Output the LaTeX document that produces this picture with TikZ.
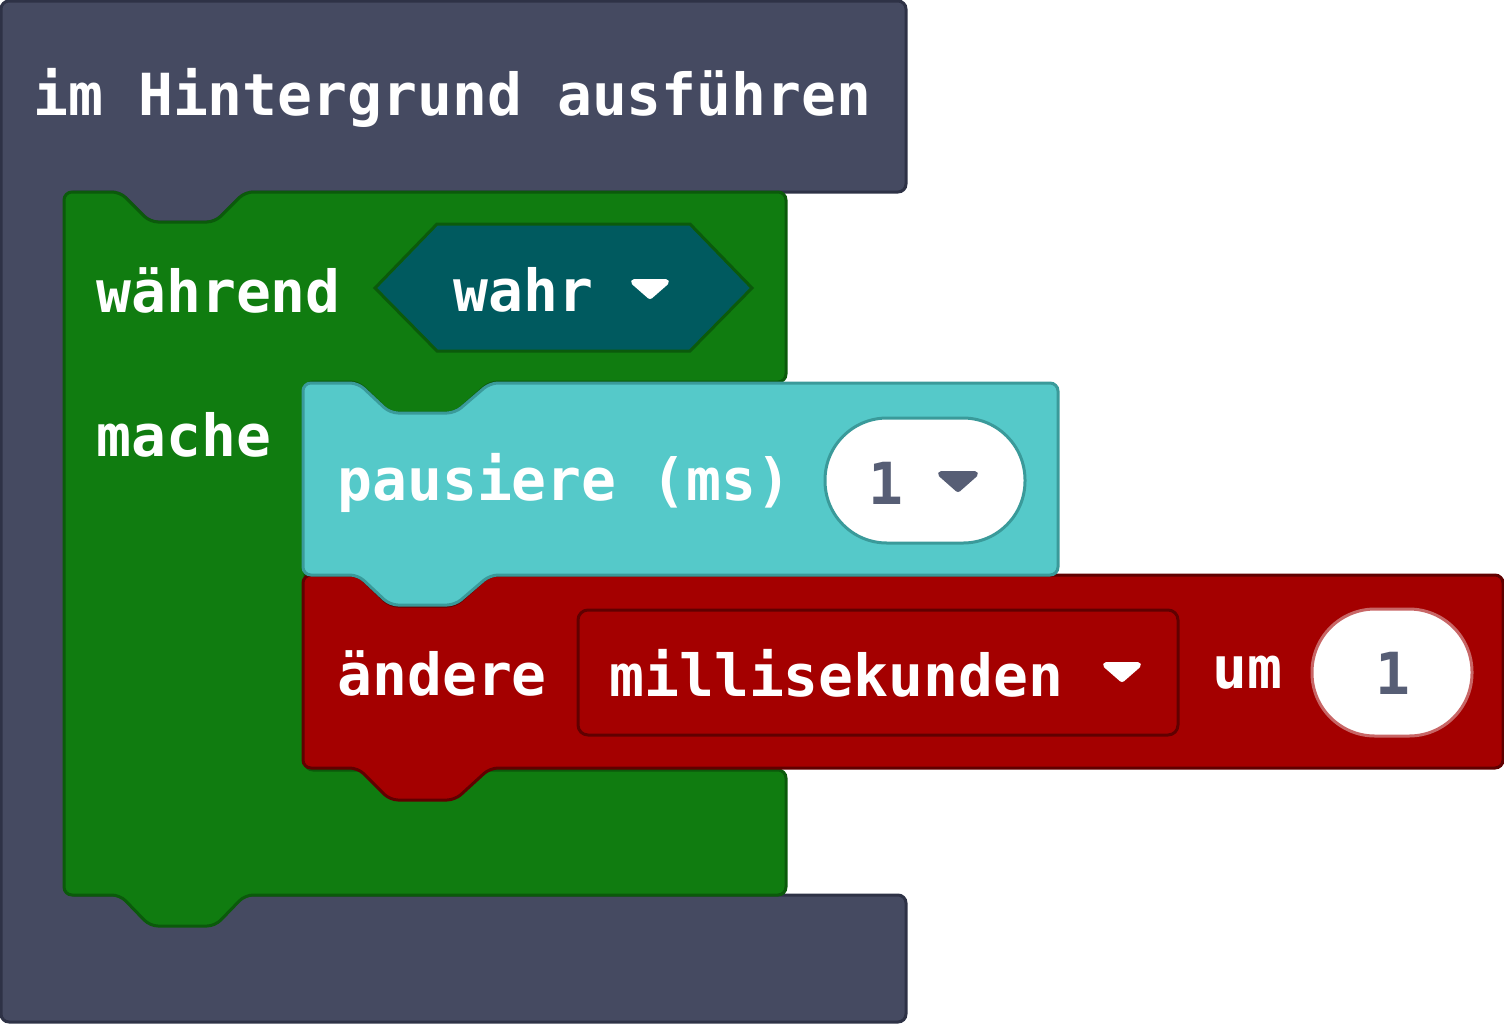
\documentclass[tikz,border=0pt]{standalone}
\usepackage{fontspec}
\setmonofont{DejaVu Sans Mono}
\begin{document}
\begin{tikzpicture}[x=0.5pt,y=-0.5pt,
  lbl/.style={font=\ttfamily\bfseries\fontsize{29}{34}\selectfont,text=white,anchor=west,inner sep=0},
  dd/.style={fill=#1,draw=#1,line width=3pt,line join=round},
  blk/.style={line width=1.5pt,rounded corners=4pt}]
\definecolor{gray1}{HTML}{454A61}\definecolor{gray2}{HTML}{2E3246}
\definecolor{grn}{HTML}{107C10}\definecolor{grnd}{HTML}{0B5A0B}
\definecolor{cyn}{HTML}{55C9C9}\definecolor{cynd}{HTML}{3A9A9A}
\definecolor{red1}{HTML}{A40000}\definecolor{redd}{HTML}{600000}
\definecolor{teal}{HTML}{005A5F}\definecolor{txg}{HTML}{575E75}
\useasboundingbox (0,0) rectangle (1504,1024);
\draw[blk,fill=gray1,draw=gray2] (1,1) -- (906,1) -- (906,192) -- (245,192) -- (215,222) -- (150,222) -- (120,192) -- (66,192) -- (66,895) -- (906,895) -- (906,1022) -- (1,1022) -- cycle;
\draw[blk,fill=grn,draw=grnd] (64,192) -- (120,192) -- (150,222) -- (215,222) -- (245,192) -- (786,192) -- (786,382) -- (490,382) -- (455,413) -- (390,413) -- (358,382) -- (305,382) -- (305,770) -- (786,770) -- (786,895) -- (245,895) -- (215,926) -- (150,926) -- (120,895) -- (64,895) -- cycle;
\draw[blk,fill=red1,draw=redd] (303,575) -- (358,575) -- (390,606) -- (455,606) -- (490,575) -- (1503,575) -- (1503,768) -- (490,768) -- (455,800) -- (390,800) -- (358,768) -- (303,768) -- cycle;
\draw[blk,fill=cyn,draw=cynd] (303,383) -- (358,383) -- (390,413) -- (455,413) -- (490,383) -- (1058,383) -- (1058,575) -- (490,575) -- (455,605) -- (390,605) -- (358,575) -- (303,575) -- cycle;
\node[lbl] (t1) at (33,98) {im Hintergrund ausführen};
\node[lbl] (t2) at (96,290) {während};
\node[lbl] (t3) at (96,435) {mache};
\draw[fill=teal,draw=grnd,line width=1.5pt] (375,288) -- (437,224) -- (690,224) -- (752,288) -- (690,351) -- (437,351) -- cycle;
\node[lbl] (w) at (453,290) {wahr};
\draw[dd=white] (634,282) -- (666,282) -- (650,296) -- cycle;
\node[lbl] (p) at (337,483) {pausiere (ms)};
\draw[fill=white,draw=cynd,line width=1.5pt,rounded corners=31pt] (825,418) rectangle (1025,543);
\node[lbl,text=txg] (n1) at (868,483) {1};
\draw[dd=txg] (941,474) -- (975,474) -- (958,489) -- cycle;
\node[lbl] (a) at (337,673) {ändere};
\draw[fill=red1,draw=redd,line width=1.5pt,rounded corners=5pt] (578,610) rectangle (1178,735);
\node[lbl] (m) at (609,673) {millisekunden};
\draw[dd=white] (1106,665) -- (1138,665) -- (1122,679) -- cycle;
\node[lbl] (u) at (1212,673) {um};
\draw[fill=white,draw=red1!60!white,line width=1.5pt,rounded corners=31.5pt] (1312,609) rectangle (1472,736);
\node[lbl,text=txg] (n2) at (1375,673) {1};
\end{tikzpicture}
\end{document}
